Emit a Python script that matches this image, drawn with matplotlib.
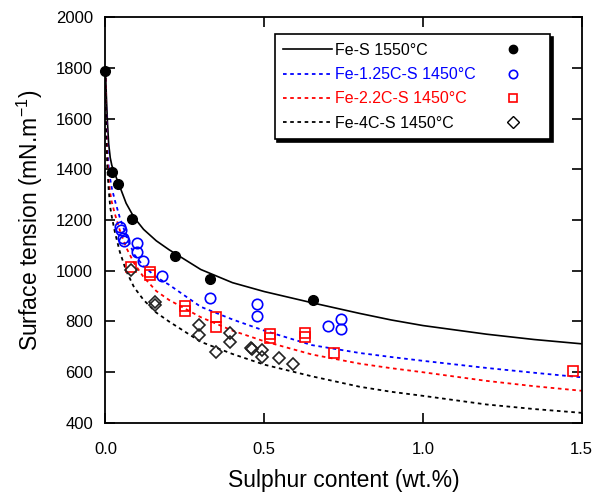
import numpy as np
import matplotlib
matplotlib.use("Agg")
from matplotlib import pyplot as plt
from matplotlib.lines import Line2D

plt.rcParams['font.family'] = ['Liberation Sans', 'DejaVu Sans']

# measured points, S content in wt.% and surface tension in mN/m
feS_x = [0.0, 0.022, 0.039, 0.085, 0.22, 0.33, 0.655]
feS_y = [1788, 1388, 1343, 1203, 1057, 968, 884]

c125_x = [0.046, 0.048, 0.056, 0.058, 0.10, 0.10, 0.117, 0.177, 0.329, 0.477, 0.477, 0.70, 0.741, 0.741]
c125_y = [1172, 1160, 1128, 1118, 1108, 1075, 1040, 980, 894, 868, 820, 784, 811, 770]

c22_x = [0.08, 0.14, 0.14, 0.25, 0.25, 0.347, 0.347, 0.519, 0.519, 0.628, 0.628, 0.72, 1.472]
c22_y = [1016, 995, 983, 862, 840, 819, 779, 751, 736, 753, 740, 676, 606]

c4_x = [0.079, 0.157, 0.157, 0.293, 0.293, 0.348, 0.392, 0.392, 0.458, 0.462, 0.492, 0.492, 0.548, 0.592]
c4_y = [1003, 878, 866, 785, 747, 681, 756, 720, 695, 690, 688, 659, 657, 631]

# model curves
fit_x = [0.0, 0.003, 0.006, 0.01, 0.015, 0.02, 0.03, 0.045, 0.065, 0.09, 0.12, 0.16, 0.2,
         0.3, 0.4, 0.5, 0.65, 0.8, 0.9, 1.0, 1.2, 1.35, 1.5]
feS_fit = [1788, 1680, 1590, 1500, 1445, 1415, 1380, 1332, 1266, 1210, 1163, 1118, 1083,
           1005, 953, 918, 874, 832, 806, 784, 750, 729, 712]
c125_fit = [1788, 1600, 1490, 1410, 1360, 1325, 1275, 1210, 1140, 1065, 1018, 975, 945,
            858, 808, 764, 707, 676, 660, 645, 617, 598, 580]
c22_fit = [1788, 1560, 1440, 1360, 1305, 1270, 1222, 1160, 1092, 1030, 975, 920, 885,
           817, 764, 722, 670, 634, 616, 600, 566, 545, 527]
c4_fit = [1788, 1520, 1400, 1320, 1250, 1212, 1150, 1075, 1000, 935, 885, 835, 800,
          720, 672, 630, 584, 543, 523, 507, 473, 455, 440]

blue = '#0000ff'
red = '#ff0000'

fig = plt.figure(figsize=(5.95, 4.93), dpi=100)
ax = fig.add_axes([0.1773, 0.142, 0.8004, 0.8235])

dot = (0, (2, 2))
ax.plot(fit_x, feS_fit, color='black', lw=1.2)
ax.plot(fit_x, c125_fit, color=blue, lw=1.3, linestyle=dot)
ax.plot(fit_x, c22_fit, color=red, lw=1.3, linestyle=dot)
ax.plot(fit_x, c4_fit, color='black', lw=1.3, linestyle=dot)

ax.plot(feS_x, feS_y, 'o', color='black', ms=7, clip_on=False, zorder=5)
ax.plot(c125_x, c125_y, 'o', mfc='none', mec=blue, mew=1.2, ms=7.5)
ax.plot(c22_x, c22_y, 's', mfc='none', mec=red, mew=1.2, ms=7.5)
ax.plot(c4_x, c4_y, 'D', mfc='none', mec='#222222', mew=1.2, ms=6.5)

ax.set_xlim(0, 1.5)
ax.set_ylim(400, 2000)
ax.set_xticks([0, 0.5, 1.0, 1.5])
ax.set_xticklabels(['0.0', '0.5', '1.0', '1.5'])
ax.set_yticks(range(400, 2001, 200))
ax.tick_params(direction='in', length=7, width=1.2, top=True, right=True, labelsize=12)
ax.tick_params(axis='x', pad=14)
ax.tick_params(axis='y', pad=9)
for s in ax.spines.values():
    s.set_linewidth(1.3)

ax.set_xlabel('Sulphur content (wt.%)', fontsize=16.5, labelpad=8)
ax.set_ylabel('Surface tension (mN.m$^{\\mathregular{-1}}$)', fontsize=16.5, labelpad=8)

# legend: line samples on the left, marker samples in a second column
handles = [
    Line2D([], [], color='black', lw=1.2),
    Line2D([], [], color=blue, lw=1.3, linestyle=dot),
    Line2D([], [], color=red, lw=1.3, linestyle=dot),
    Line2D([], [], color='black', lw=1.3, linestyle=dot),
    Line2D([], [], ls='none', marker='o', color='black', ms=6),
    Line2D([], [], ls='none', marker='o', mfc='none', mec=blue, mew=1.2, ms=6),
    Line2D([], [], ls='none', marker='s', mfc='none', mec=red, mew=1.2, ms=6),
    Line2D([], [], ls='none', marker='D', mfc='none', mec='black', mew=1.0, ms=6),
]
labels = ['Fe-S 1550°C', 'Fe-1.25C-S 1450°C', 'Fe-2.2C-S 1450°C', 'Fe-4C-S 1450°C',
          '', '', '', '']
leg = ax.legend(handles, labels, ncol=2, loc='upper right', bbox_to_anchor=(0.933, 0.958),
                borderaxespad=0, fontsize=11.5, handlelength=3.06, handletextpad=0.2,
                columnspacing=0.8, labelspacing=0.58, borderpad=0.55, fancybox=False,
                shadow={'color': 'black', 'alpha': 1}, framealpha=1)
leg.get_frame().set_edgecolor('black')
leg.get_frame().set_linewidth(1.2)
for t, c in zip(leg.get_texts()[:4], ['black', blue, red, 'black']):
    t.set_color(c)

fig.savefig('out.png', dpi=100)
